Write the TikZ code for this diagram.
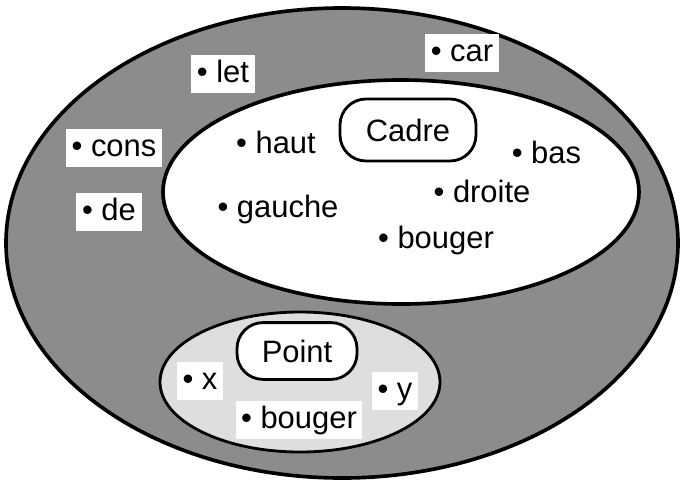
\documentclass[tikz,border=0pt]{standalone}
\usepackage{fontspec}
\setmainfont{Liberation Sans}
\usetikzlibrary{shapes.geometric}

\begin{document}
\begin{tikzpicture}[thick,
    zone/.style={draw, ellipse, line width=2.6pt},
    item/.style={fill=white, inner xsep=0.14cm, text height=0.55cm, text depth=0.15cm, font=\fontsize{22}{26}\selectfont},
    word/.style={anchor=base, font=\fontsize{22}{26}\selectfont},
    classbox/.style={draw, fill=white, line width=2pt, rounded corners=0.65cm, font=\fontsize{22}{26}\selectfont}]
    \useasboundingbox (0,0) rectangle (17.025,-12.025);
    % Zones
    \node[zone, fill=black!45, minimum width=16.8cm, minimum height=11.75cm] (prog) at (8.55,-6.075) {};
    \node[zone, fill=white, minimum width=11.9cm, minimum height=5.6cm] (cadre) at (10.025,-4.8) {};
    \node[zone, fill=black!13, line width=2pt, minimum width=7cm, minimum height=3.5cm] (point) at (7.5,-9.55) {};

    % Outer items
    \node[item] (let) at (5.575,-1.85) {• let};
    \node[item] (car) at (11.55,-1.325) {• car};
    \node[item] (cons) at (2.85,-3.7) {• cons};
    \node[item] (de) at (2.725,-5.3) {• de};

    % Cadre
    \node[classbox, minimum width=3.4cm, minimum height=1.55cm] (cadrename) at (10.2,-3.25) {Cadre};
    \node[word] (haut) at (6.9,-3.825) {• haut};
    \node[word] (bas) at (13.66,-4.075) {• bas};
    \node[word] (droite) at (12.05,-5.05) {• droite};
    \node[word] (gauche) at (6.95,-5.425) {• gauche};
    \node[word] (bougerc) at (10.9,-6.2) {• bouger};

    % Point
    \node[classbox, minimum width=3cm, minimum height=1.42cm] (pointname) at (7.425,-8.775) {Point};
    \node[item] (x) at (5.0,-9.525) {• x};
    \node[item] (y) at (9.875,-9.775) {• y};
    \node[item] (bougerp) at (7.475,-10.5) {• bouger};
\end{tikzpicture}
\end{document}
